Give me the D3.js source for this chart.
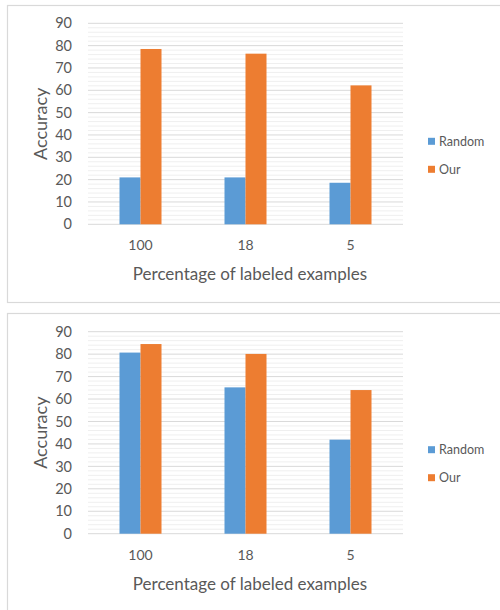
<!DOCTYPE html>
<html><head><meta charset="utf-8">
<script src="https://cdn.jsdelivr.net/npm/d3@7"></script>
<style>body{margin:0;background:#fff}svg{display:block}</style>
</head><body>
<script>
const categories = ["100", "18", "5"];
const seriesNames = ["Random", "Our"];
const randomTop = [21, 21, 18.6];
const ourTop = [78.5, 76.4, 62.2];
const randomBottom = [80.7, 65.2, 41.9];
const ourBottom = [84.5, 80.1, 64.0];
const yTicks = [0, 10, 20, 30, 40, 50, 60, 70, 80, 90];
const colors = ["#5B9BD5", "#ED7D31"];
const FONT = "Lato, 'Open Sans', sans-serif";
const TEXT = "#595959";

const svg = d3.select("body").append("svg").attr("width", 500).attr("height", 610);

function drawChart(frameY, frameH, plotTop, plotBottom, randomVals, ourVals) {
  const g = svg.append("g");
  g.append("rect").attr("x", 7.5).attr("y", frameY + 0.5).attr("width", 500).attr("height", frameH)
    .attr("fill", "#fff").attr("stroke", "#D9D9D9").attr("stroke-width", 1.2);

  const x0 = d3.scaleBand().domain(categories).range([88, 403]);
  const x1 = d3.scaleBand().domain(seriesNames).range([0, 42]);
  const y = d3.scaleLinear().domain([0, 90]).range([plotBottom, plotTop]);

  const minor = d3.range(0, 90, 2).filter(v => v % 10 !== 0);
  g.append("g").selectAll("line").data(minor).join("line")
    .attr("x1", 88).attr("x2", 403).attr("y1", d => y(d)).attr("y2", d => y(d))
    .attr("stroke", "#EFEFEF").attr("stroke-width", 1);
  g.append("g").selectAll("line").data(yTicks).join("line")
    .attr("x1", 88).attr("x2", 403).attr("y1", d => y(d)).attr("y2", d => y(d))
    .attr("stroke", "#D9D9D9").attr("stroke-width", 1);

  const yAxis = d3.axisLeft(y).tickValues(yTicks).tickSize(0).tickPadding(0);
  const ya = g.append("g").attr("transform", "translate(72,0)").call(yAxis);
  ya.select(".domain").remove();
  ya.selectAll("text").attr("font-family", FONT).attr("font-size", 14.5).attr("fill", TEXT);

  const xAxis = d3.axisBottom(x0).tickSize(0).tickPadding(0);
  const xa = g.append("g").attr("transform", `translate(0,${plotBottom + 16})`).call(xAxis);
  xa.select(".domain").remove();
  xa.selectAll("text").attr("font-family", FONT).attr("font-size", 14).attr("fill", TEXT);

  const rows = categories.map((c, i) => ({ c, vals: [randomVals[i], ourVals[i]] }));
  g.append("g").selectAll("g").data(rows).join("g")
    .attr("transform", d => `translate(${x0(d.c) + (x0.bandwidth() - 42) / 2},0)`)
    .selectAll("rect").data(d => d.vals.map((v, k) => ({ v, k })))
    .join("rect")
    .attr("x", d => x1(seriesNames[d.k])).attr("width", x1.bandwidth())
    .attr("y", d => y(d.v)).attr("height", d => y(0) - y(d.v))
    .attr("fill", d => colors[d.k]);

  g.append("text").attr("transform", `translate(47,${(plotTop + plotBottom) / 2}) rotate(-90)`)
    .attr("text-anchor", "middle").attr("font-family", FONT).attr("font-size", 18).attr("fill", TEXT)
    .text("Accuracy");
  g.append("text").attr("x", 250).attr("y", plotBottom + 56).attr("text-anchor", "middle")
    .attr("font-family", FONT).attr("font-size", 17).attr("fill", TEXT)
    .text("Percentage of labeled examples");

  const lg = g.append("g").attr("transform", `translate(428,${plotTop + 118})`);
  seriesNames.forEach((s, k) => {
    lg.append("rect").attr("x", 0).attr("y", k * 28 - 3.5).attr("width", 7).attr("height", 7).attr("fill", colors[k]);
    lg.append("text").attr("x", 11).attr("y", k * 28).attr("dy", "0.35em")
      .attr("font-family", FONT).attr("font-size", 12.5).attr("fill", TEXT).text(s);
  });
}

drawChart(5, 297, 23.3, 224.3, randomTop, ourTop);
drawChart(313, 300, 331.7, 533.7, randomBottom, ourBottom);
</script>
</body></html>
